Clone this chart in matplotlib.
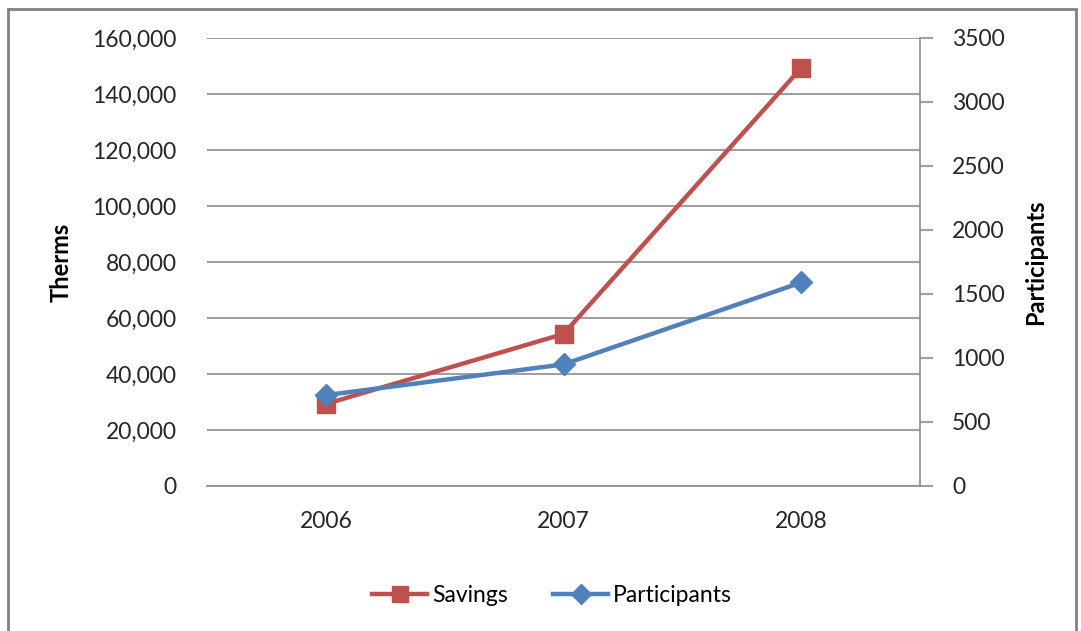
import matplotlib.pyplot as plt
from matplotlib.patches import Rectangle
from matplotlib.ticker import FuncFormatter

plt.rcParams['font.family'] = ['Lato', 'DejaVu Sans']

# Datos
years = ['2006', '2007', '2008']
savings = [29300, 54300, 149300]
participants = [710, 950, 1590]

red = '#C0504D'
blue = '#4F81BD'
grid = '#8C8C8C'

fig = plt.figure(figsize=(10.81, 6.31), dpi=100)
ax = fig.add_axes([207 / 1081, 1 - 486 / 631, (920 - 207) / 1081, (486 - 38) / 631])
ax2 = ax.twinx()

x = range(len(years))
l1, = ax.plot(x, savings, color=red, lw=3.2, marker='s', markersize=13, label='Savings', zorder=3)
l2, = ax2.plot(x, participants, color=blue, lw=3.2, marker='D', markersize=11.5, label='Participants', zorder=4)

ax.set_xlim(-0.5, 2.5)
ax.set_ylim(0, 160000)
ax.set_yticks(range(0, 160001, 20000))
ax.yaxis.set_major_formatter(FuncFormatter(lambda v, p: f'{int(v):,}'))
ax2.set_ylim(0, 3500)
ax2.set_yticks(range(0, 3501, 500))
ax.set_xticks(list(x))
ax.set_xticklabels(years)

ax.grid(axis='y', color=grid, lw=1.2)
ax.set_axisbelow(True)
for s in ['top', 'left', 'right']:
    ax.spines[s].set_visible(False)
ax.spines['bottom'].set_color(grid)
ax.spines['bottom'].set_linewidth(1.2)
for s in ['top', 'left', 'bottom']:
    ax2.spines[s].set_visible(False)
ax2.spines['right'].set_color(grid)
ax2.spines['right'].set_linewidth(1.2)

ax.tick_params(axis='y', length=0, pad=22, labelsize=16.5, colors='#262626')
ax.tick_params(axis='x', length=0, pad=18, labelsize=16.5, colors='#262626')
ax2.tick_params(axis='y', length=9, width=1.2, color=grid, pad=14, labelsize=16.5, labelcolor='#262626')

ax.set_ylabel('Therms', fontsize=17, fontweight='bold', labelpad=14)
ax2.set_ylabel('Participants', fontsize=17, fontweight='bold', labelpad=14)

fig.legend(handles=[l1, l2], loc='center', bbox_to_anchor=(552 / 1081, 1 - 596 / 631),
           ncol=2, frameon=False, fontsize=16.5, handlelength=2.4, columnspacing=2.0,
           handletextpad=0.2, markerscale=0.85)

fig.patches.append(Rectangle((8 / 1081, -0.05), (1076 - 8) / 1081, 1.05 - 9 / 631,
                             transform=fig.transFigure, fill=False, edgecolor='#808080', lw=2))

plt.savefig('out.png', dpi=100)
